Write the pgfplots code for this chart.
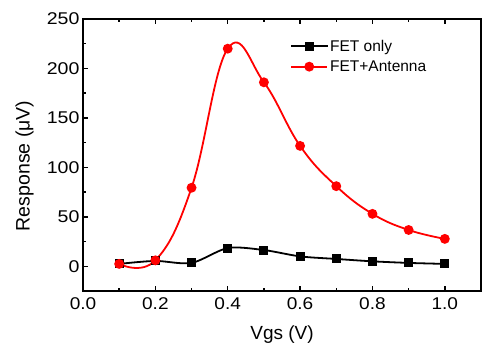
\documentclass[border=0pt]{standalone}
\usepackage{pgfplots}
\pgfplotsset{compat=1.18}
\usepackage{fontspec}
\setmainfont{Liberation Sans}
\begin{document}
\begin{tikzpicture}
\begin{axis}[
  scale only axis,
  width=398bp, height=272bp,
  xmin=0, xmax=1.1, ymin=-25, ymax=250,
  xtick distance=0.2, ytick distance=50,
  minor x tick num=1, minor y tick num=1,
  xtick pos=both, ytick pos=left,
  tick align=inside,
  major tick length=5bp, minor tick length=3.5bp,
  every tick/.style={line width=1.4bp, black},
  axis line style={line width=2bp},
  xticklabel={\scalebox{1.12}[1]{\pgfmathprintnumber[fixed,fixed zerofill,precision=1,assume math mode=true]{\tick}}},
  yticklabel={\scalebox{1.15}[1]{\pgfmathprintnumber[fixed,precision=0,assume math mode=true]{\tick}}},
  xticklabel style={font=\fontsize{17bp}{19bp}\selectfont, yshift=-3bp},
  yticklabel style={font=\fontsize{17bp}{19bp}\selectfont, xshift=0bp},
  xlabel={Vgs (V)},
  ylabel={Response (μV)},
  xlabel style={font=\fontsize{19bp}{22bp}\selectfont, at={(axis description cs:0.5,-0.16)}, anchor=center},
  ylabel style={font=\fontsize{19.5bp}{22bp}\selectfont, at={(axis description cs:-0.147,0.46)}, anchor=center, rotate=0},
  legend style={draw=none, fill=none, at={(axis description cs:0.518,0.935)}, anchor=north west, font=\fontsize{15.5bp}{18bp}\selectfont, row sep=4bp, inner sep=1bp},
  legend cell align=left,
  legend image code/.code={\draw[mark repeat=2, mark phase=2, #1] plot coordinates {(0bp,0bp) (18bp,0bp) (36bp,0bp)};},
  clip=false,
]
\addplot[black, line width=1.8bp, smooth, mark=square*, mark size=3.6bp, mark options={solid}] coordinates {
(0.1,2.4) (0.2,5.4) (0.3,3.4) (0.4,18.4) (0.5,16.4) (0.6,10) (0.7,7.4) (0.8,5) (0.9,3.4) (1.0,2.4)};
\addlegendentry{FET only}
\addplot[red, line width=1.8bp, smooth, tension=0.7, mark=*, mark size=4bp, mark options={solid}] coordinates {
(0.1,2.4) (0.2,6) (0.3,79.4) (0.4,220) (0.5,186) (0.6,121.7) (0.7,81) (0.8,53) (0.9,36.7) (1.0,27.7)};
\addlegendentry{FET+Antenna}
\end{axis}
\useasboundingbox (-83bp,-52bp) rectangle (399bp,291bp);
\end{tikzpicture}
\end{document}
